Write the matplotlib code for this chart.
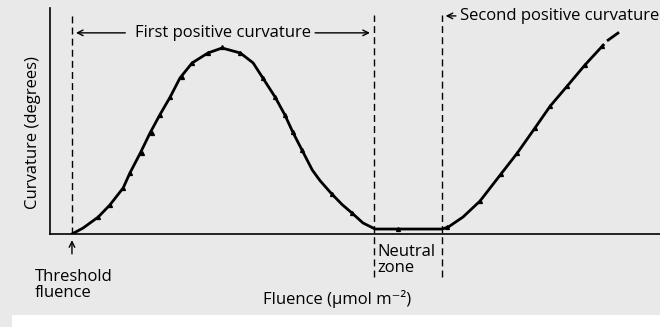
import matplotlib.pyplot as plt
from matplotlib.patches import Rectangle

# curve (fluence in arbitrary units, curvature in degrees)
fluence = [0.36, 0.54, 0.79, 0.98, 1.20, 1.31, 1.48, 1.64, 1.80, 1.97, 2.13, 2.33,
           2.59, 2.82, 3.12, 3.33, 3.49, 3.69, 3.85, 3.98, 4.13, 4.30, 4.43, 4.62,
           4.79, 4.95, 5.13, 5.33, 6.43, 6.53, 6.77, 7.05, 7.38, 7.66, 7.95, 8.20,
           8.48, 8.77, 9.07]
curvature = [0, 2.6, 7.5, 12.8, 20.4, 27.0, 35.8, 44.7, 52.7, 60.6, 69.0, 75.7,
             80.1, 82.3, 80.1, 75.7, 69.0, 60.6, 52.7, 45.1, 37.2, 28.3, 23.5, 17.7,
             13.0, 9.3, 4.9, 2.2, 2.2, 3.1, 7.5, 14.6, 26.1, 35.8, 46.9, 56.6,
             65.5, 74.8, 83.6]
tail_x = [9.15, 9.31]
tail_y = [85.8, 88.9]

# measured points
pts_x = [0.79, 0.98, 1.20, 1.31, 1.51, 1.67, 1.80, 1.97, 2.16, 2.33, 2.59, 2.82,
         3.12, 3.49, 3.69, 3.85, 3.98, 4.13, 4.62, 4.95, 5.70, 6.51, 7.05, 7.39,
         7.66, 7.95, 8.20, 8.48, 8.77, 9.05]
pts_y = [7.5, 12.8, 20.4, 27.0, 35.8, 44.7, 52.7, 60.6, 69.5, 75.7, 80.1, 82.7,
         80.1, 69.0, 60.6, 52.7, 45.1, 37.2, 17.7, 9.3, 2.2, 3.1, 14.6, 26.5,
         35.8, 46.9, 56.6, 65.5, 74.8, 83.2]

threshold = 0.36
neutral = [5.31, 6.42]

plt.rcParams['font.family'] = ['Open Sans', 'DejaVu Sans']
fs = 12

fig = plt.figure(figsize=(6.6, 3.27), dpi=100, facecolor='#e9e9e9')
fig.patches.append(Rectangle((12 / 660, 0), 1, 12 / 327, transform=fig.transFigure,
                             facecolor='white', edgecolor='none', zorder=0))
ax = fig.add_axes([50 / 660, 93 / 327, 610 / 660, 226 / 327])
ax.set_facecolor('none')
ax.set_xlim(0, 10)
ax.set_ylim(0, 100)
for s in ['top', 'right']:
    ax.spines[s].set_visible(False)
for s in ['left', 'bottom']:
    ax.spines[s].set_linewidth(1.2)
ax.set_xticks([])
ax.set_yticks([])

ax.plot(fluence, curvature, color='black', lw=2, solid_joinstyle='round')
ax.plot(tail_x, tail_y, color='black', lw=2, clip_on=False)
ax.plot(pts_x, pts_y, '^', color='black', ms=2.8, clip_on=False)

# dashed guide lines
ax.plot([threshold, threshold], [0, 97], color='black', lw=1, dashes=(5, 3))
for x in neutral:
    ax.plot([x, x], [-19, 97], color='black', lw=1, dashes=(5, 3), clip_on=False)

# curvature labels with arrows
ax.text(2.83, 89, 'First positive curvature', ha='center', va='center', fontsize=fs)
ax.annotate('', xy=(threshold + 0.02, 89), xytext=(1.28, 89),
            arrowprops=dict(arrowstyle='->', color='black', lw=1))
ax.annotate('', xy=(neutral[0] - 0.02, 89), xytext=(4.30, 89),
            arrowprops=dict(arrowstyle='->', color='black', lw=1))
ax.annotate('', xy=(neutral[1] + 0.02, 96.5), xytext=(6.70, 96.5),
            arrowprops=dict(arrowstyle='->', color='black', lw=1), annotation_clip=False)
ax.text(6.72, 96.5, 'Second positive curvature', ha='left', va='center', fontsize=fs,
        clip_on=False)

# threshold arrow and labels
ax.annotate('', xy=(threshold, -1.5), xytext=(threshold, -10),
            arrowprops=dict(arrowstyle='->', color='black', lw=1), annotation_clip=False)
ax.text(-0.25, -22.5, 'Threshold\nfluence', ha='left', va='center', fontsize=fs,
        linespacing=1.05)
ax.text(neutral[0] + 0.05, -11.5, 'Neutral\nzone', ha='left', va='center', fontsize=fs,
        linespacing=1.0)

fig.text(337 / 660, 1 - 299 / 327, 'Fluence (µmol m⁻²)', ha='center', va='center',
         fontsize=fs)
fig.text(33 / 660, 1 - 133 / 327, 'Curvature (degrees)', ha='center', va='center',
         rotation=90, fontsize=fs)

fig.savefig('out.png', dpi=100, facecolor=fig.get_facecolor())
